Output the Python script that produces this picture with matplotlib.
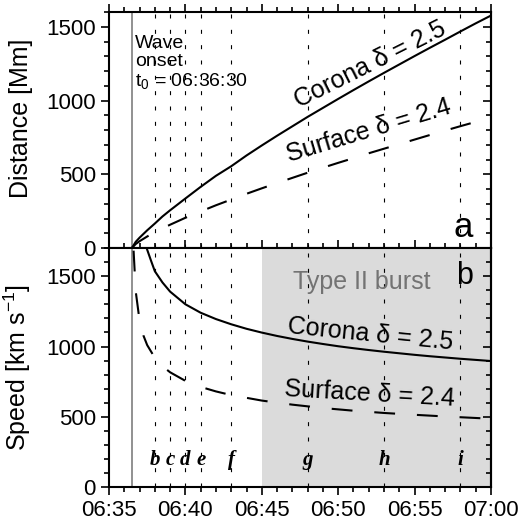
import matplotlib
matplotlib.use('Agg')
import matplotlib.pyplot as plt
from matplotlib.ticker import MultipleLocator

plt.rcParams['font.family'] = ['Liberation Sans', 'DejaVu Sans']
plt.rcParams['mathtext.fontset'] = 'custom'
plt.rcParams['mathtext.rm'] = 'Liberation Sans'
plt.rcParams['mathtext.it'] = 'Liberation Sans:italic'

# time in minutes after 06:35
onset = 1.5
event_times = [3, 4, 5, 6, 8, 13, 18, 23]
event_labels = ['b', 'c', 'd', 'e', 'f', 'g', 'h', 'i']
burst_start, burst_end = 10, 25
tick_pos = [0, 5, 10, 15, 20, 25]
tick_labels = ['06:35', '06:40', '06:45', '06:50', '06:55', '07:00']

# distance [Mm]
dist_time = [1.5, 1.75, 2, 2.5, 3, 3.5, 4, 5, 6, 7, 8, 9, 10, 11, 12, 13, 14,
             15, 16, 17, 18, 19, 20, 21, 22, 23, 24, 25]
corona_dist = [0, 42, 70, 120, 166, 214, 256, 336, 415, 490, 555, 628, 696, 762,
               826, 890, 951, 1012, 1072, 1131, 1189, 1246, 1303, 1359, 1414,
               1470, 1525, 1578]
surface_dist = [0, 27, 46, 78, 107, 133, 158, 205, 248, 290, 329, 368, 405, 441,
                476, 511, 545, 578, 610, 643, 674, 705, 736, 767, 797, 827, 856, 885]

# speed [km/s]
corona_v_time = [2.46, 2.75, 3, 3.5, 4, 5, 6, 7, 8, 9, 10, 11, 12, 13, 14, 15,
                 16, 17, 18, 19, 20, 21, 22, 23, 24, 25]
corona_speed = [1700, 1610, 1535, 1455, 1390, 1300, 1240, 1195, 1158, 1126, 1099,
                1075, 1054, 1035, 1018, 1002, 988, 975, 963, 952, 941, 931, 922,
                913, 905, 897]
surface_v_time = [1.61, 1.75, 2, 2.25, 2.5, 3, 3.5, 4, 5, 6, 7, 8, 10, 12, 14,
                  16, 18, 20, 22, 25]
surface_speed = [1681, 1391, 1185, 1079, 1010, 920, 860, 817, 756, 713, 681, 655,
                 616, 587, 563, 544, 528, 515, 503, 487]

fig = plt.figure(figsize=(5.23, 5.30), dpi=100)
ax1 = fig.add_axes([0.2084, 0.5321, 0.7304, 0.4447])
ax2 = fig.add_axes([0.2084, 0.0806, 0.7304, 0.4515])

dash = (0, (10, 10.5))
dots = (0, (3.6, 10.2))

for ax in (ax1, ax2):
    ax.axvline(onset, color='0.45', lw=1.1, zorder=2)
    for t in event_times:
        ax.axvline(t, color='k', lw=0.8, ls=dots, zorder=2)

ax1.plot(dist_time, corona_dist, color='k', lw=1.5, zorder=3)
ax1.plot(dist_time, surface_dist, color='k', lw=1.5, ls=dash, zorder=3)

ax2.axvspan(burst_start, burst_end, color='0.86', lw=0, zorder=0)
ax2.plot(corona_v_time, corona_speed, color='k', lw=1.5, zorder=3)
ax2.plot(surface_v_time, surface_speed, color='k', lw=1.5, ls=dash, zorder=3)

ax1.text(1.7, 1445, 'Wave\nonset\nt$_0$ = 06:36:30', fontsize=14, ha='left', va='top',
         linespacing=1.05)
ax1.text(17.08, 1245, 'Corona δ = 2.5', fontsize=18, rotation=26.6,
         ha='center', va='center', rotation_mode='anchor')
ax1.text(17.0, 794, 'Surface δ = 2.4', fontsize=18, rotation=16.7,
         ha='center', va='center', rotation_mode='anchor')
ax1.text(23.17, 136, 'a', fontsize=25, ha='center', va='center')

ax2.text(16.56, 1459, 'Type II burst', fontsize=18, color='0.45', ha='center', va='center')
ax2.text(23.3, 1502, 'b', fontsize=22, ha='center', va='center')
ax2.text(17.08, 1088, 'Corona δ = 2.5', fontsize=18, rotation=-5.7,
         ha='center', va='center', rotation_mode='anchor')
ax2.text(17.04, 666, 'Surface δ = 2.4', fontsize=18, rotation=-3.3,
         ha='center', va='center', rotation_mode='anchor')
for t, lab in zip(event_times, event_labels):
    ax2.text(t, 195, lab, fontsize=15, family='Liberation Serif', weight='bold',
             style='italic', ha='center', va='center')

ax1.set_ylim(0, 1600)
ax2.set_ylim(0, 1700)
for ax in (ax1, ax2):
    ax.set_xlim(0, 25)
    ax.set_xticks(tick_pos)
    ax.xaxis.set_minor_locator(MultipleLocator(1))
    ax.yaxis.set_major_locator(MultipleLocator(500))
    ax.yaxis.set_minor_locator(MultipleLocator(100))
    ax.tick_params(axis='x', which='both', top=True, bottom=True, direction='out')
    ax.tick_params(axis='y', which='both', left=True, right=False, direction='out')
    ax.tick_params(which='major', length=6, width=1.2, labelsize=16)
    ax.tick_params(which='minor', length=3.5, width=1.2)
    for s in ax.spines.values():
        s.set_linewidth(1.5)
    sec = ax.secondary_yaxis('right')
    sec.yaxis.set_major_locator(MultipleLocator(500))
    sec.yaxis.set_minor_locator(MultipleLocator(100))
    sec.tick_params(which='both', direction='in', labelright=False, width=1.2)
    sec.tick_params(which='major', length=6)
    sec.tick_params(which='minor', length=3.5)
    sec.spines['right'].set_linewidth(1.5)

ax1.set_xticklabels([])
ax2.set_xticklabels(tick_labels)

ax1.set_ylabel('Distance [Mm]', fontsize=18)
ax2.set_ylabel('Speed [km s$^{-1}$]', fontsize=18)
ax1.yaxis.set_label_coords(-0.20, 0.552)
ax2.yaxis.set_label_coords(-0.20, 0.5)

fig.savefig('out.png', dpi=100)
